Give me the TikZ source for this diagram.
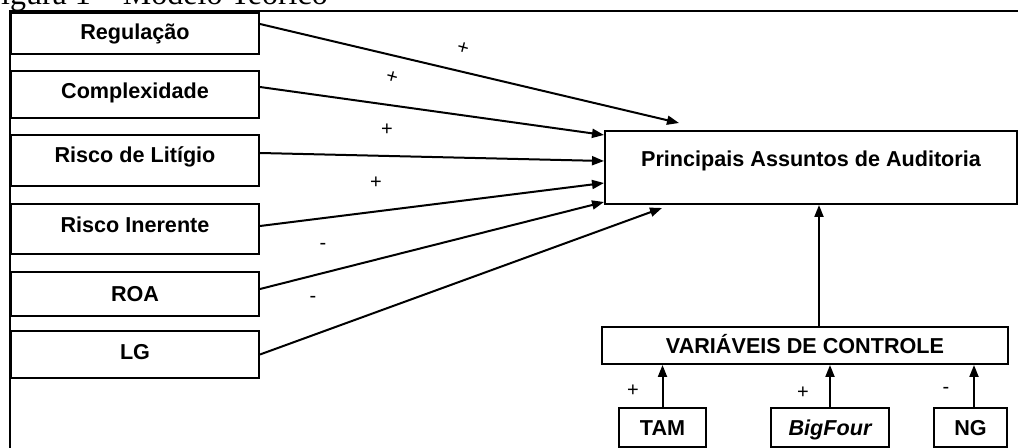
\documentclass[tikz,border=0pt]{standalone}
\usepackage{fontspec}
\setmainfont{Liberation Sans}
\newfontfamily\capfont{Liberation Serif}
\usetikzlibrary{positioning,arrows.meta,calc}

\begin{document}
\begin{tikzpicture}[x=0.5pt,y=-0.5pt,
    box/.style={draw, line width=1pt, inner sep=0pt,
        font=\fontsize{10.8}{13}\selectfont\bfseries},
    lbox/.style={box, minimum width=124pt, text height=8pt},
    sbox/.style={box, minimum height=19.5pt, text height=8pt, text depth=0pt},
    sign/.style={inner sep=0pt, font=\fontsize{10}{12}\selectfont},
    link/.style={-{Triangle[length=6pt,width=4.5pt]}, line width=1pt}]
    \useasboundingbox (0,0) rectangle (1018,448);

    % caption (cut off at the top)
    \node[anchor=base west, inner sep=0pt, font=\capfont\fontsize{16}{19}\selectfont]
        (cap) at (-17,5) {Figura 1 – Modelo Teórico};

    % frame
    \draw[line width=1.1pt] (10,448) -- (10,11) -- (1018,11);

    % explanatory variables
    \node[lbox, minimum height=20.5pt, text depth=1.8pt] (reg) at (135,33.5) {Regulação};
    \node[lbox, minimum height=23.5pt, text depth=4.1pt] (cpx) at (135,94.5) {Complexidade};
    \node[lbox, minimum height=25.5pt, text depth=5.8pt] (lit) at (135,160.5) {Risco de Litígio};
    \node[lbox, minimum height=25pt, text depth=4.3pt] (ine) at (135,229) {Risco Inerente};
    \node[lbox, minimum height=22pt, text depth=0.8pt] (roa) at (135,294) {ROA};
    \node[lbox, minimum height=23.5pt, text depth=2.8pt] (lg) at (135,354.5) {LG};

    % dependent variable
    \node[box, minimum width=206pt, minimum height=36.5pt, text height=8pt, text depth=9pt]
        (paa) at (811,167.5) {Principais Assuntos de Auditoria};

    % control variables
    \node[box, minimum width=203pt, minimum height=18.5pt, text height=8pt, text depth=0pt]
        (ctrl) at (805,345.5) {VARIÁVEIS DE CONTROLE};
    \node[sbox, minimum width=43.5pt] (tam) at (662.5,427.5) {TAM};
    \node[sbox, minimum width=59pt] (big) at (830,427.5) {\itshape BigFour};
    \node[sbox, minimum width=36.5pt] (ng) at (970.5,427.5) {NG};

    % arrow ends at the main box
    \coordinate (e1) at (679,123);
    \coordinate (e2) at (604,135);
    \coordinate (e3) at (604,161);
    \coordinate (e4) at (604,183);
    \coordinate (e5) at (604,202);
    \coordinate (e6) at (662,208);

    \draw[link] ([yshift=4.75pt]reg.east) -- (e1);
    \draw[link] ([yshift=3.75pt]cpx.east) -- (e2);
    \draw[link] ([yshift=3.75pt]lit.east) -- (e3);
    \draw[link] ([yshift=1.5pt]ine.east) -- (e4);
    \draw[link] ([yshift=2.5pt]roa.east) -- (e5);
    \draw[link] (lg.east) -- (e6);

    % signs
    \node[sign, rotate=-15] (s1) at (463,48) {+};
    \node[sign, rotate=-15] (s2) at (392,77) {+};
    \node[sign] (s3) at (387,130) {+};
    \node[sign] (s4) at (376,183) {+};
    \node[sign] (s5) at (323,246) {-};
    \node[sign] (s6) at (313,299) {-};

    % controls into the model
    \coordinate (up) at ([xshift=7pt]ctrl.north);
    \draw[link] (up) -- (up |- paa.south);

    \coordinate (ngup) at ([xshift=1.75pt]ng.north);
    \draw[link] (tam.north) -- (tam.north |- ctrl.south);
    \draw[link] (big.north) -- (big.north |- ctrl.south);
    \draw[link] (ngup) -- (ngup |- ctrl.south);

    \node[sign] (t1) at (633,391) {+};
    \node[sign] (t2) at (803,393) {+};
    \node[sign] (t3) at (946,390) {-};
\end{tikzpicture}
\end{document}
